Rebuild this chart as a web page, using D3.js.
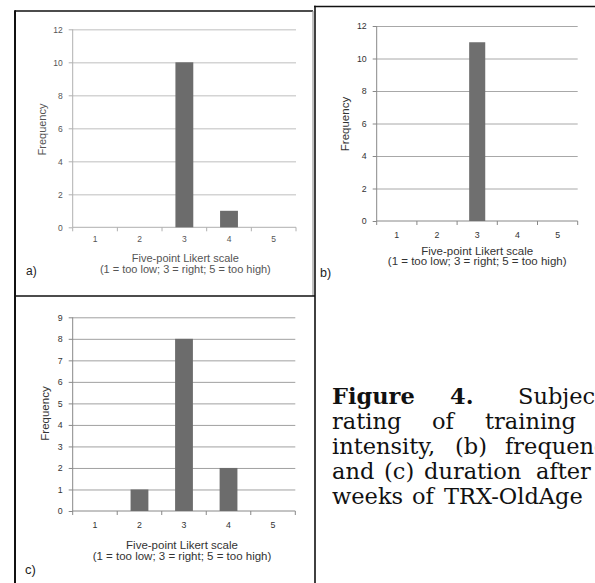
<!DOCTYPE html>
<html>
<head>
<meta charset="utf-8">
<script src="https://cdn.jsdelivr.net/npm/d3@7"></script>
<style>
html,body{margin:0;padding:0;background:#fff;}
svg{display:block;}
</style>
</head>
<body>
<svg id="fig" width="595" height="583"></svg>
<script>
// ---- data ----
const categories = ["1", "2", "3", "4", "5"];
const intensityFreq = [0, 0, 10, 1, 0];   // (a)
const frequencyFreq = [0, 0, 11, 0, 0];   // (b)
const durationFreq  = [0, 1, 8, 2, 0];    // (c)
const ticksAB = [0, 2, 4, 6, 8, 10, 12];
const ticksC  = [0, 1, 2, 3, 4, 5, 6, 7, 8, 9];
const xTitle1 = "Five-point Likert scale";
const xTitle2 = "(1 = too low; 3 = right; 5 = too high)";
const yTitle = "Frequency";
const panelLabels = ["a)", "b)", "c)"];
const captionLines = [
  [{t:"Figure", b:true}, {t:"4.", b:true}, {t:"Subjective"}],
  [{t:"rating"}, {t:"of"}, {t:"training"}],
  [{t:"intensity,"}, {t:"(b)"}, {t:"frequency,"}],
  [{t:"and"}, {t:"(c)"}, {t:"duration"}, {t:"after"}],
  [{t:"weeks"}, {t:"of"}, {t:"TRX-OldAge"}]
];
const captionWordX = [
  [332, 450, 518],
  [332, 432, 485],
  [332, 455, 505],
  [332, 384, 424, 536],
  [332, 412, 444]
];

const svg = d3.select("#fig");
const FONT = "Liberation Sans, Arial, sans-serif";

function drawPanel(cfg) {
  const g = svg.append("g");
  const x = d3.scaleBand().domain(categories)
    .range([cfg.left, cfg.right]).paddingInner(0.6).paddingOuter(0.3);
  const y = d3.scaleLinear().domain([0, cfg.yMax]).range([cfg.bottom, cfg.top]);

  // gridlines
  g.append("g")
    .attr("transform", `translate(${cfg.left},0)`)
    .call(d3.axisLeft(y).tickValues(cfg.ticks.filter(d => d > 0))
      .tickSize(-(cfg.right - cfg.left)).tickFormat(""))
    .call(s => s.select(".domain").remove())
    .call(s => s.selectAll("line").attr("stroke", cfg.grid).attr("stroke-width", cfg.gridW));

  // y axis
  g.append("g")
    .attr("transform", `translate(${cfg.left},0)`)
    .call(d3.axisLeft(y).tickValues(cfg.ticks).tickSize(4).tickPadding(6))
    .call(s => s.select(".domain").attr("stroke", cfg.axis).attr("d", `M0,${cfg.bottom}V${cfg.top}`))
    .call(s => s.selectAll("line").attr("stroke", cfg.axis))
    .call(s => s.selectAll("text").attr("font-family", FONT).attr("font-size", cfg.tickFs)
      .attr("fill", cfg.text));

  // x axis line + boundary ticks
  const ax = g.append("g");
  ax.append("line").attr("x1", cfg.left).attr("x2", cfg.right)
    .attr("y1", y(0)).attr("y2", y(0)).attr("stroke", cfg.axis);
  const bounds = d3.range(categories.length + 1).map(i => x.range()[0] + i * x.step());
  ax.selectAll("line.bt").data(bounds).join("line").attr("class", "bt")
    .attr("x1", d => d).attr("x2", d => d)
    .attr("y1", y(0)).attr("y2", y(0) + 4).attr("stroke", cfg.axis);
  ax.selectAll("text").data(categories).join("text")
    .attr("x", d => x(d) + x.bandwidth() / 2).attr("y", y(0) + cfg.xLabOff)
    .attr("text-anchor", "middle").attr("font-family", FONT)
    .attr("font-size", cfg.tickFs).attr("fill", cfg.text).text(d => d);

  // bars
  g.selectAll("rect.bar").data(cfg.values.map((v, i) => ({c: categories[i], v})).filter(d => d.v > 0))
    .join("rect").attr("class", "bar")
    .attr("x", d => x(d.c)).attr("width", x.bandwidth())
    .attr("y", d => y(d.v)).attr("height", d => y(0) - y(d.v))
    .attr("fill", cfg.bar);

  // titles
  const cx = (cfg.left + cfg.right) / 2 + cfg.titleDx;
  g.append("text").attr("x", cx).attr("y", cfg.t1y).attr("text-anchor", "middle")
    .attr("font-family", FONT).attr("font-size", cfg.titleFs).attr("fill", cfg.text).text(xTitle1);
  g.append("text").attr("x", cx).attr("y", cfg.t2y).attr("text-anchor", "middle")
    .attr("font-family", FONT).attr("font-size", cfg.titleFs).attr("fill", cfg.text).text(xTitle2);
  g.append("text").attr("transform", `translate(${cfg.yTx},${cfg.yTy}) rotate(-90)`)
    .attr("text-anchor", "middle").attr("font-family", FONT).attr("font-size", cfg.titleFs)
    .attr("fill", cfg.text).text(yTitle);
  g.append("text").attr("x", cfg.labX).attr("y", cfg.labY).attr("font-family", FONT)
    .attr("font-size", cfg.labFs).attr("fill", "#222").text(cfg.label);
}

// panel frames
const frame = svg.append("g").attr("fill", "none");
frame.append("path").attr("d", "M15,11H313").attr("stroke", "#111").attr("stroke-width", 1.6);
frame.append("path").attr("d", "M15,10.2V583").attr("stroke", "#111").attr("stroke-width", 2);
frame.append("path").attr("d", "M313,11V296").attr("stroke", "#999").attr("stroke-width", 1.2);
frame.append("path").attr("d", "M14,296H315").attr("stroke", "#111").attr("stroke-width", 1.6);
frame.append("path").attr("d", "M314,6.5H595").attr("stroke", "#111").attr("stroke-width", 1.5);
frame.append("path").attr("d", "M315,5.8V583").attr("stroke", "#111").attr("stroke-width", 1.6);

drawPanel({
  values: intensityFreq, yMax: 12, ticks: ticksAB,
  left: 72.7, right: 296, top: 29.3, bottom: 227.3,
  grid: "#d4d4d4", gridW: 1.4, axis: "#b0b0b0", text: "#555", bar: "#6c6c6c",
  tickFs: 8.5, titleFs: 11, xLabOff: 15,
  t1y: 262, t2y: 272.5, titleDx: 1,
  yTx: 46, yTy: 129.5, label: panelLabels[0], labX: 26, labY: 274.5, labFs: 12
});
drawPanel({
  values: frequencyFreq, yMax: 12, ticks: ticksAB,
  left: 376.7, right: 577.7, top: 26, bottom: 221,
  grid: "#a8a8a8", gridW: 1, axis: "#888", text: "#333", bar: "#6f6f6f",
  tickFs: 8.8, titleFs: 11.5, xLabOff: 16.5,
  t1y: 254.5, t2y: 265, titleDx: 0,
  yTx: 348.5, yTy: 124, label: panelLabels[1], labX: 320, labY: 277, labFs: 12.5
});
drawPanel({
  values: durationFreq, yMax: 9, ticks: ticksC,
  left: 72.7, right: 295.3, top: 317.3, bottom: 511,
  grid: "#a0a0a0", gridW: 1, axis: "#888", text: "#333", bar: "#6c6c6c",
  tickFs: 8.8, titleFs: 11.5, xLabOff: 17,
  t1y: 549, t2y: 559.5, titleDx: -2,
  yTx: 48.5, yTy: 413.5, label: panelLabels[2], labX: 25, labY: 573.5, labFs: 13
});

// caption (justified text, clipped by the page edge)
const cap = svg.append("g").attr("font-family", "'DejaVu Serif',serif")
  .attr("font-size", 22.5).attr("fill", "#111");
const baselines = [404, 429, 454, 479, 504];
captionLines.forEach((line, li) => {
  cap.selectAll(null).data(line).join("text")
    .attr("x", (d, i) => captionWordX[li][i]).attr("y", baselines[li])
    .attr("font-weight", d => d.b ? "bold" : "normal").text(d => d.t);
});
</script>
</body>
</html>
